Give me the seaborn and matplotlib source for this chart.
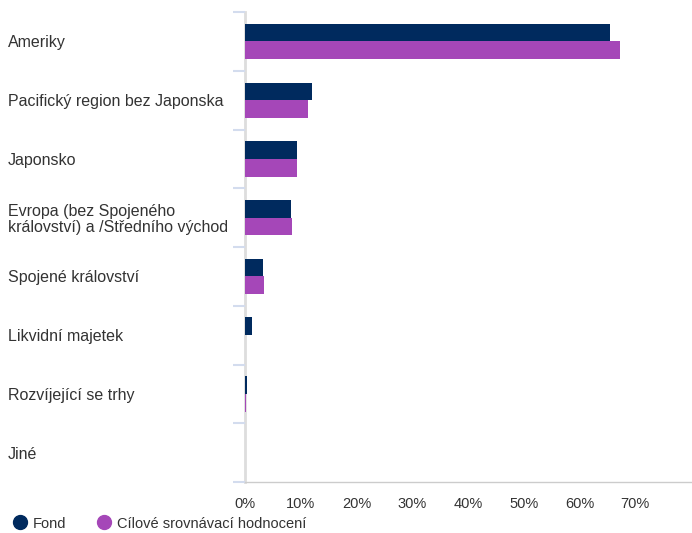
import matplotlib
matplotlib.use("Agg")
import matplotlib.pyplot as plt
import seaborn as sns
import pandas as pd
import numpy as np
from matplotlib.lines import Line2D

categories = ["Ameriky", "Pacifický region bez Japonska", "Japonsko",
              "Evropa (bez Spojeného\nkrálovství) a /Středního východ",
              "Spojené království", "Likvidní majetek", "Rozvíjející se trhy", "Jiné"]
fond = [65.5, 12.0, 9.3, 8.2, 3.2, 1.3, 0.4, 0.0]
benchmark = [67.3, 11.3, 9.3, 8.4, 3.4, 0.0, 0.1, 0.0]
series_names = ["Fond", "Cílové srovnávací hodnocení"]
colors = ["#002a5e", "#a547b8"]
xticks = [0, 10, 20, 30, 40, 50, 60, 70]

df = pd.DataFrame({
    "cat": categories * 2,
    "val": fond + benchmark,
    "series": [series_names[0]] * len(categories) + [series_names[1]] * len(categories),
})

sns.set_style("white")
plt.rcParams['font.family'] = ['Liberation Sans', 'DejaVu Sans']

fig = plt.figure(figsize=(6.92, 5.33), dpi=100)
ax = fig.add_axes([245/692, 1-482/533, (691-245)/692, (482-12)/533])

sns.barplot(data=df, y="cat", x="val", hue="series", orient="h",
            palette=colors, saturation=1, width=0.6, linewidth=0, ax=ax,
            legend=False, order=categories, hue_order=series_names)

ax.set_xlim(0, 80)
ax.set_ylim(len(categories) - 0.5, -0.5)
ax.set_xticks(xticks)
ax.set_xticklabels([f"{t}%" for t in xticks], fontsize=10.5, color="#333333")
ax.tick_params(axis="x", length=0, pad=11)

ax.set_yticks(range(len(categories)))
ax.set_yticklabels(categories, fontsize=11.5, color="#333333", ha="left",
                   linespacing=1.05)
ax.tick_params(axis="y", which="major", left=True, length=0, pad=(245-8)*0.72)
ax.set_yticks(np.arange(-0.5, len(categories) + 0.5, 1), minor=True)
ax.tick_params(axis="y", which="minor", left=True, length=8.5, width=1.5,
               color="#d3dcee", direction="out")

ax.set_xlabel("")
ax.set_ylabel("")
for s in ["top", "right"]:
    ax.spines[s].set_visible(False)
ax.spines["left"].set_color("#dddddd")
ax.spines["left"].set_linewidth(2)
ax.spines["left"].set_zorder(0.5)
ax.spines["bottom"].set_color("#cccccc")
ax.spines["bottom"].set_linewidth(1)

handles = [Line2D([0], [0], marker="o", linestyle="", markersize=10,
                  markerfacecolor=c, markeredgecolor=c) for c in colors]
fig.legend(handles, series_names, loc="lower left", bbox_to_anchor=(-0.003, -0.02),
           ncol=2, frameon=False, fontsize=10.5, handletextpad=0.3,
           columnspacing=2.0, handlelength=1.2, labelcolor="#333333")

fig.savefig("out.png", dpi=100)
